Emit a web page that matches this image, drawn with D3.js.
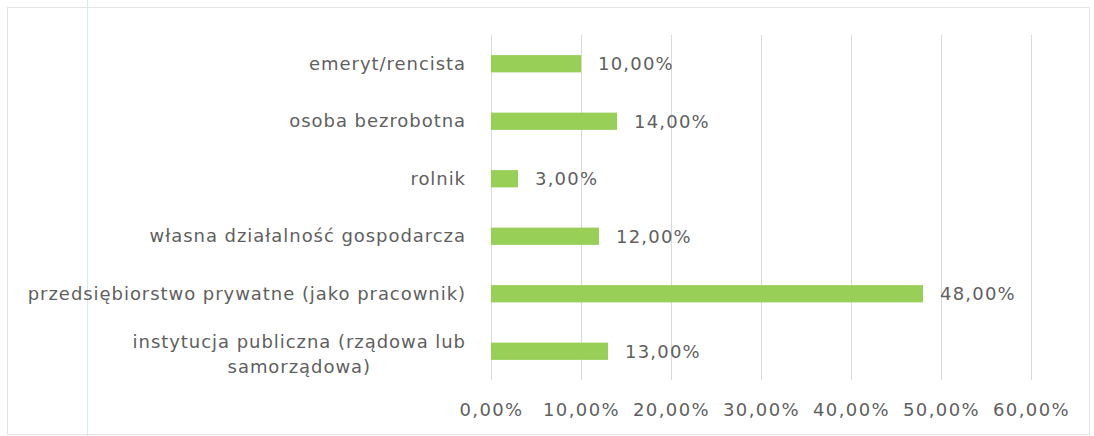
<!DOCTYPE html>
<html>
<head>
<meta charset="utf-8">
<script src="https://cdn.jsdelivr.net/npm/d3@7"></script>
<style>
  body { margin: 0; background: #fff; }
  text { font-family: "DejaVu Sans", Verdana, sans-serif; fill: #5f5f5f; }
</style>
</head>
<body>
<div id="chart"></div>
<script>
// data
const categories = [
  'emeryt/rencista',
  'osoba bezrobotna',
  'rolnik',
  'własna działalność gospodarcza',
  'przedsiębiorstwo prywatne (jako pracownik)',
  'instytucja publiczna (rządowa lub samorządowa)'
]
const values = [0.10, 0.14, 0.03, 0.12, 0.48, 0.13]
const xTicks = [0, 0.1, 0.2, 0.3, 0.4, 0.5, 0.6]

const w = 1094
const h = 436
const margin = {top: 35, right: 63, bottom: 56, left: 491}
const width = w - margin.left - margin.right
const height = h - margin.top - margin.bottom
const font = '"DejaVu Sans", Verdana, sans-serif'

const pl = d3.formatLocale({decimal: ',', thousands: ' ', grouping: [3], currency: ['', ' zł']})
const pct = pl.format('.2%')

const svg = d3.select('#chart').append('svg')
  .attr('width', w)
  .attr('height', h)

// frame + scan line
svg.append('rect')
  .attr('x', 7.5).attr('y', 7.5)
  .attr('width', w - 12).attr('height', h - 9)
  .attr('fill', 'none')
  .attr('stroke', '#e4e4e4')
svg.append('line')
  .attr('x1', 87.5).attr('x2', 87.5)
  .attr('y1', 0).attr('y2', h)
  .attr('stroke', '#d6ecef')

const g = svg.append('g').attr('transform', 'translate(' + margin.left + ',' + margin.top + ')')

const x = d3.scaleLinear().domain([0, 0.6]).range([0, width])
const y = d3.scaleBand()
  .domain(categories)
  .range([0, height])
  .paddingInner(0.7)
  .paddingOuter(0.35)

// gridlines
g.append('g')
  .attr('class', 'grid')
  .call(d3.axisBottom(x).tickValues(xTicks).tickSize(height).tickFormat(''))
  .call(s => s.select('.domain').remove())
  .call(s => s.selectAll('line').attr('stroke', '#d9d9d9'))

// x axis labels
g.append('g')
  .attr('transform', 'translate(0,' + height + ')')
  .call(d3.axisBottom(x).tickValues(xTicks).tickSize(0).tickPadding(23).tickFormat(pct))
  .call(s => s.select('.domain').remove())
  .call(s => s.selectAll('text')
    .attr('fill', '#5f5f5f')
    .style('font-family', font)
    .style('font-size', '18px')
    .style('letter-spacing', '1.4px'))

// y axis labels
const yAxis = g.append('g')
  .call(d3.axisLeft(y).tickSize(0).tickPadding(25))
  .call(s => s.select('.domain').remove())
yAxis.selectAll('text')
  .attr('fill', '#5f5f5f')
  .style('font-family', font)
  .style('font-size', '18px')
  .style('letter-spacing', '0.95px')
  .each(function (d) { wrap(d3.select(this), 460) })

function wrap (text, maxW) {
  const words = text.text().split(' ')
  const lines = []
  let cur = []
  text.text(null)
  const probe = text.append('tspan')
  words.forEach(word => {
    cur.push(word)
    probe.text(cur.join(' '))
    if (probe.node().getComputedTextLength() > maxW && cur.length > 1) {
      cur.pop()
      lines.push(cur.join(' '))
      cur = [word]
    }
  })
  lines.push(cur.join(' '))
  probe.remove()
  if (lines.length === 1) {
    text.text(lines[0])
    return
  }
  const xr = +text.attr('x')
  const lh = 25
  const tsp = lines.map((l, i) => text.append('tspan')
    .attr('y', (i - (lines.length - 1) / 2) * lh + 3)
    .attr('dy', '0.32em')
    .text(l))
  const bw = d3.max(tsp, t => t.node().getComputedTextLength())
  tsp.forEach(t => t.attr('x', xr - bw / 2).attr('text-anchor', 'middle'))
}

// bars
g.selectAll('.bar')
  .data(values)
  .enter().append('rect')
  .attr('class', 'bar')
  .attr('x', x(0))
  .attr('y', (d, i) => y(categories[i]))
  .attr('width', d => x(d) - x(0))
  .attr('height', y.bandwidth())
  .attr('fill', '#97cf57')

// value labels
g.selectAll('.val')
  .data(values)
  .enter().append('text')
  .attr('class', 'val')
  .attr('x', d => x(d) + 17)
  .attr('y', (d, i) => y(categories[i]) + y.bandwidth() / 2)
  .attr('dy', '0.35em')
  .style('font-size', '18px')
  .style('letter-spacing', '1.2px')
  .text(d => pct(d))
</script>
</body>
</html>
